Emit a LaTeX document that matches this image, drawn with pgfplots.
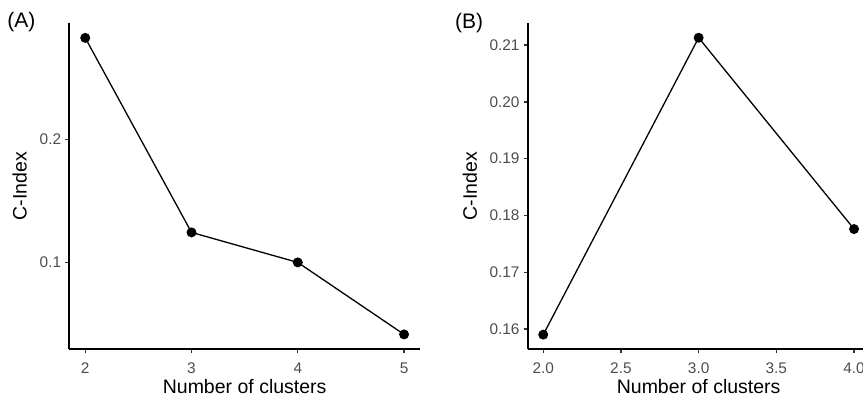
\documentclass[border=0pt]{standalone}
\usepackage{fontspec}
\setmainfont{Liberation Sans}
\usepackage{pgfplots}
\pgfplotsset{compat=1.18}
\definecolor{tickgray}{HTML}{4D4D4D}
\definecolor{tickline}{HTML}{333333}
\pgfplotsset{ggc/.style={
  scale only axis, anchor=south west,
  height=326.3pt,
  axis lines*=left,
  axis line style={black, line width=1.6pt},
  tick align=outside,
  major tick length=4pt,
  tick style={tickline, line width=1.3pt},
  tick label style={font=\fontsize{15.4pt}{18pt}\selectfont, text=tickgray, inner sep=0pt},
  /pgf/number format/assume math mode=true,
  yticklabel style={anchor=east, xshift=-4pt},
  xticklabel style={anchor=north, yshift=-9.7pt},
  label style={font=\fontsize{19.5pt}{22pt}\selectfont, text=black, inner sep=0pt},
  xlabel style={anchor=base},
  ylabel style={anchor=base, rotate=0},
}}
\begin{document}
\begin{tikzpicture}
\useasboundingbox (0,0) rectangle (863pt,401pt);
\clip (0,0) rectangle (863pt,401pt);
\begin{axis}[ggc, at={(69.3pt,51.7pt)}, width=350.7pt,
  xmin=1.85, xmax=5.15, ymin=0.0296, ymax=0.2948,
  xtick={2,3,4,5}, ytick={0.1,0.2},
  yticklabel style={/pgf/number format/.cd, fixed, fixed zerofill, precision=1},
  xlabel={Number of clusters}, ylabel={C-Index},
  xlabel style={at={(axis description cs:0.5,-0.137)}},
  ylabel style={at={(axis description cs:-0.1215,0.5)}},
]
\addplot[black, line width=1.3pt, mark=*, mark size=4.3pt] coordinates {(2,0.2827) (3,0.1246) (4,0.1002) (5,0.0417)};
\end{axis}
\begin{axis}[ggc, at={(527.7pt,51.7pt)}, width=341.9pt,
  xmin=1.9, xmax=4.1, ymin=0.15642, ymax=0.2139,
  xtick={2,2.5,3,3.5,4}, ytick={0.16,0.17,0.18,0.19,0.20,0.21},
  xticklabel style={/pgf/number format/.cd, fixed, fixed zerofill, precision=1},
  yticklabel style={/pgf/number format/.cd, fixed, fixed zerofill, precision=2},
  xlabel={Number of clusters}, ylabel={C-Index},
  xlabel style={at={(axis description cs:0.5,-0.137)}},
  ylabel style={at={(axis description cs:-0.149,0.5)}},
]
\addplot[black, line width=1.3pt, mark=*, mark size=4.3pt] coordinates {(2,0.1590) (3,0.2113) (4,0.1776)};
\end{axis}
\node[anchor=base west, inner sep=0pt, font=\fontsize{21pt}{24pt}\selectfont] at (7.3pt,373.7pt) {(A)};
\node[anchor=base west, inner sep=0pt, font=\fontsize{21pt}{24pt}\selectfont] at (455pt,372pt) {(B)};
\end{tikzpicture}
\end{document}
